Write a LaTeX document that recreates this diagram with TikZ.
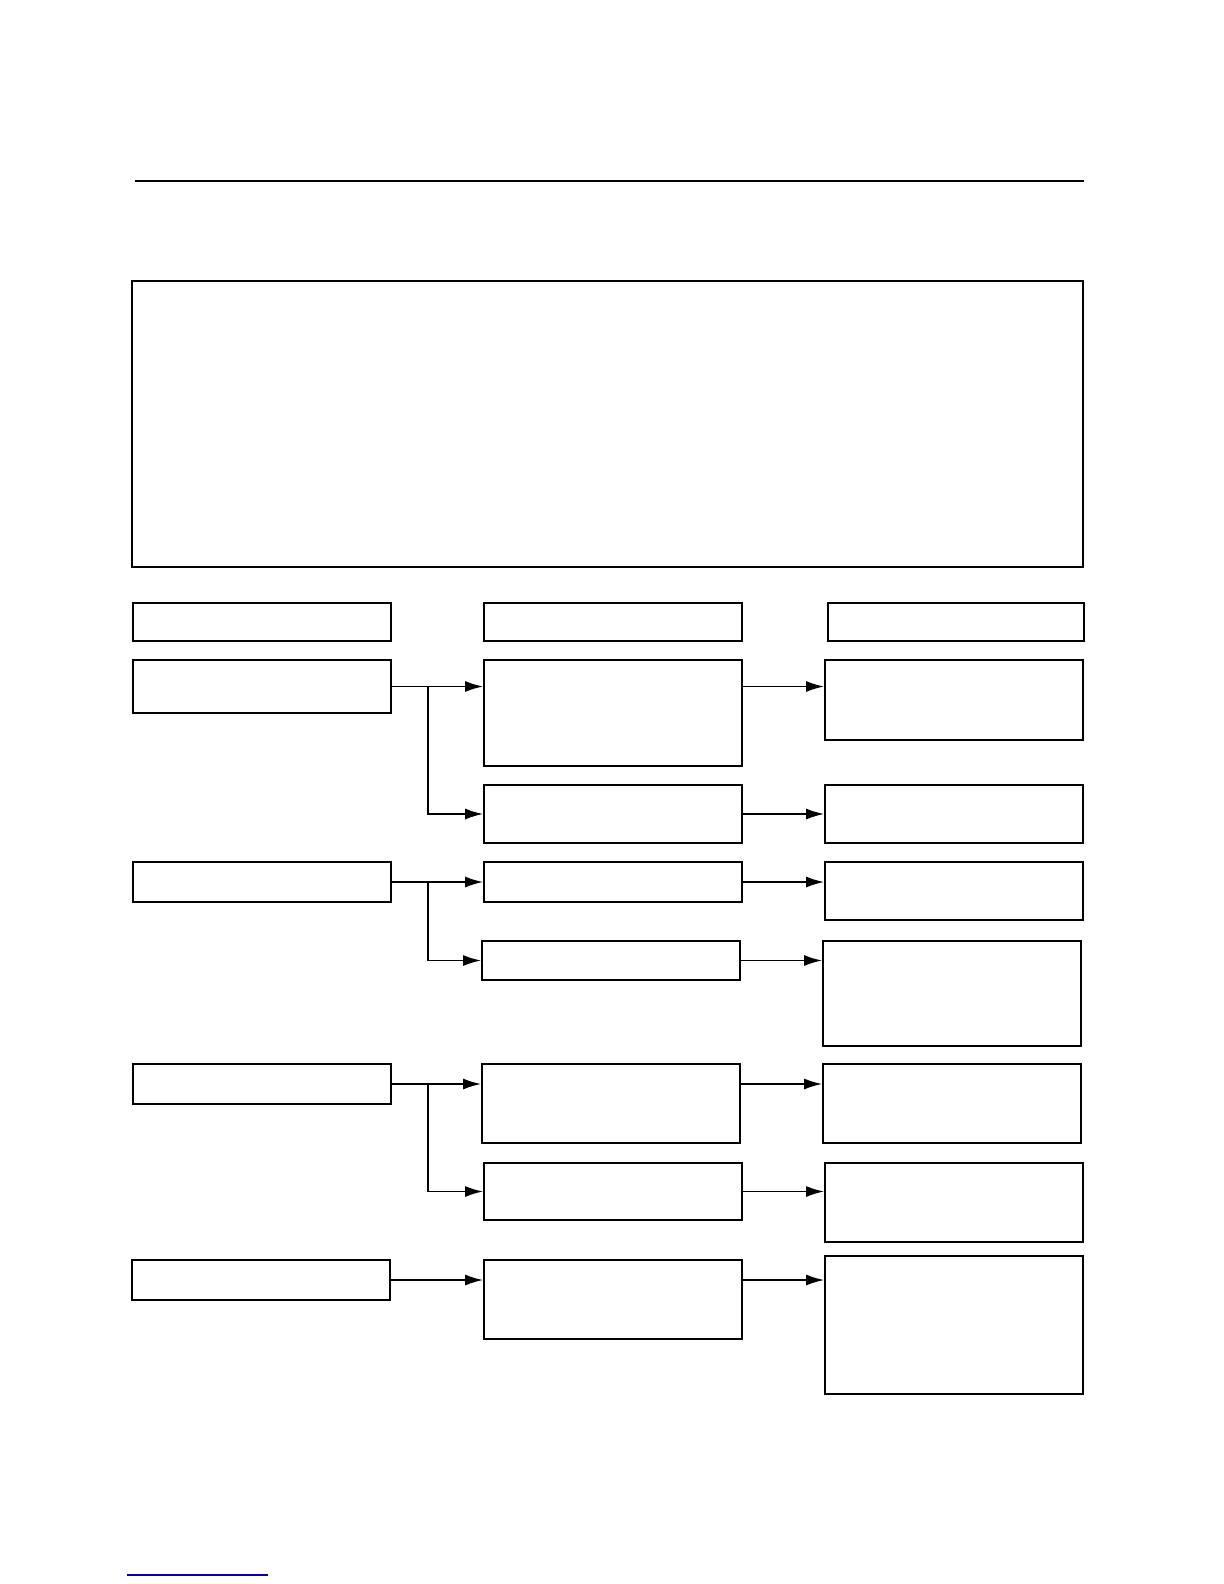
\documentclass[tikz,border=0pt]{standalone}
\usetikzlibrary{fit,arrows.meta}
\begin{document}
\begin{tikzpicture}[x=0.5pt,y=-0.5pt,
  box/.style={draw=black,line width=0.9pt,inner sep=0pt,rectangle},
  arr/.style={draw=black,line width=0.8pt,-{Latex[length=9pt,width=5.5pt]}},
  conn/.style={draw=black,line width=0.8pt}]
\useasboundingbox[fill=white] (0,0) rectangle (1224,1584);
\draw[line width=1.3pt] (135,181) coordinate (t1) -- (1084,181) coordinate (t2);
\node[box,fit={(132,281) (1083,567)}] (big) {};
% headers
\node[box,fit={(133,603) (391,641)}] (h1) {};
\node[box,fit={(484,603) (742,641)}] (h2) {};
\node[box,fit={(828,603) (1084,641)}] (h3) {};
% row 1
\node[box,fit={(133,660) (391,713)}] (l1) {};
\node[box,fit={(484,660) (742,766)}] (m1) {};
\node[box,fit={(825,660) (1083,740)}] (r1) {};
\node[box,fit={(484,785) (742,843)}] (m2) {};
\node[box,fit={(825,785) (1083,843)}] (r2) {};
% row 2
\node[box,fit={(133,862) (391,902)}] (l2) {};
\node[box,fit={(484,862) (742,902)}] (m3) {};
\node[box,fit={(825,862) (1083,920)}] (r3) {};
\node[box,fit={(482,941) (740,980)}] (m4) {};
\node[box,fit={(823,941) (1081,1046)}] (r4) {};
% row 3
\node[box,fit={(133,1064) (391,1104)}] (l3) {};
\node[box,fit={(482,1064) (740,1143)}] (m5) {};
\node[box,fit={(823,1064) (1081,1143)}] (r5) {};
\node[box,fit={(484,1163) (742,1220)}] (m6) {};
\node[box,fit={(825,1163) (1083,1242)}] (r6) {};
% row 4
\node[box,fit={(132,1260) (390,1300)}] (l4) {};
\node[box,fit={(484,1260) (742,1339)}] (m7) {};
\node[box,fit={(825,1256) (1083,1394)}] (r7) {};
% junctions
\coordinate (j1) at (428,686);
\coordinate (j2) at (428,882);
\coordinate (j3) at (428,1084);
% connectors row 1
\draw[arr] (l1.east) -- (m1.west |- l1.east);
\draw[arr] (j1) |- (m2.west);
\draw[arr] (m1.east |- l1.east) -- (r1.west |- l1.east);
\draw[arr] (m2.east) -- (r2.west |- m2.east);
% row 2
\draw[arr] (l2.east) -- (m3.west |- l2.east);
\draw[arr] (j2) |- (m4.west);
\draw[arr] (m3.east) -- (r3.west |- m3.east);
\draw[arr] (m4.east) -- (r4.west |- m4.east);
% row 3
\draw[arr] (l3.east) -- (m5.west |- l3.east);
\draw[arr] (j3) |- (m6.west);
\draw[arr] (m5.east |- l3.east) -- (r5.west |- l3.east);
\draw[arr] (m6.east) -- (r6.west |- m6.east);
% row 4
\draw[arr] (l4.east) -- (m7.west |- l4.east);
\draw[arr] (m7.east |- l4.east) -- (r7.west |- l4.east);
% footer blue line
\draw[blue!70!black,line width=0.6pt] (127,1575) coordinate (b1) -- (268,1575) coordinate (b2);
\end{tikzpicture}
\end{document}
